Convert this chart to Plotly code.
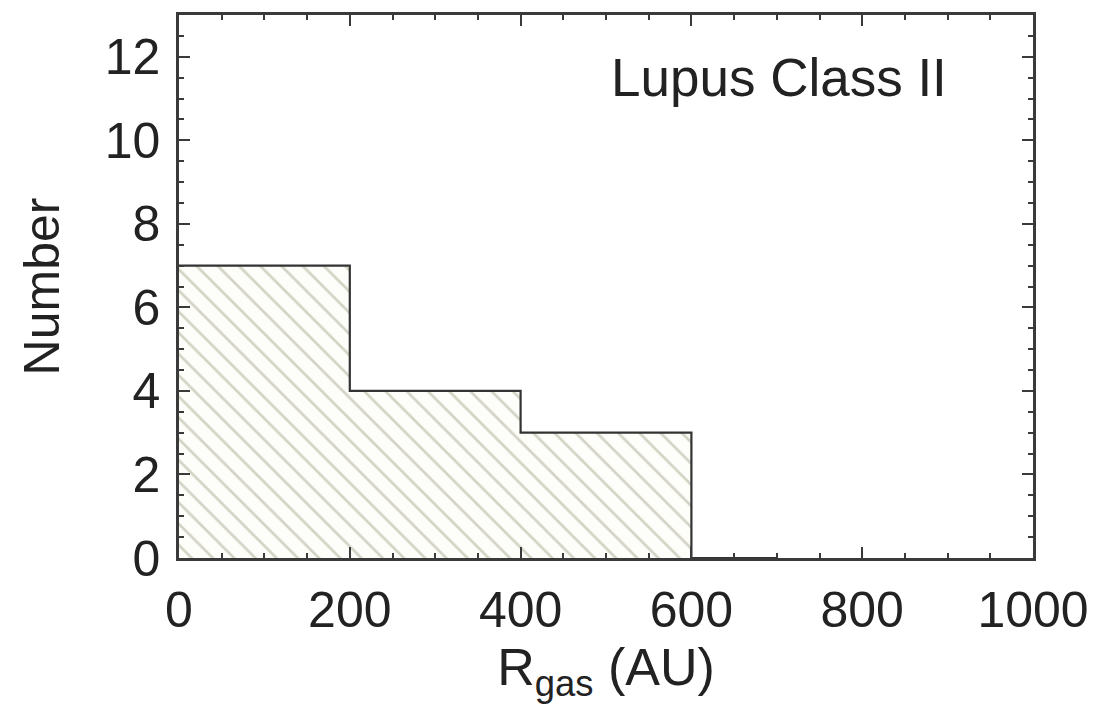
import plotly.graph_objects as go

# Histogram data (bin edges in AU, counts per bin)
bin_edges = [0, 200, 400, 600, 700]
counts = [7, 4, 3, 0]
x_tick_vals = [0, 200, 400, 600, 800, 1000]
y_tick_vals = [0, 2, 4, 6, 8, 10, 12]
label_text = "Lupus Class II"

centers = [(bin_edges[i] + bin_edges[i + 1]) / 2 for i in range(len(counts))]
widths = [bin_edges[i + 1] - bin_edges[i] for i in range(len(counts))]

FONT = "Liberation Sans, Arial, Helvetica, sans-serif"
AXC = "#3a3a3a"

fig = go.Figure()
fig.add_trace(go.Bar(
    x=centers, y=counts, width=widths,
    marker=dict(color="#fdfdf9", line=dict(width=0),
                pattern=dict(shape="\\", fgcolor="#a9a992", bgcolor="#fdfdf9",
                             size=15, solidity=0.18, fillmode="overlay")),
    showlegend=False, hoverinfo="skip"))
fig.add_trace(go.Scatter(
    x=bin_edges, y=counts + [counts[-1]], mode="lines",
    line=dict(shape="hv", color="#333333", width=2.2),
    showlegend=False, hoverinfo="skip"))

fig.add_annotation(text=label_text, xref="paper", yref="paper",
                   x=0.902, y=0.885, xanchor="right", yanchor="middle",
                   showarrow=False, font=dict(family=FONT, size=53, color="#222"))

fig.update_layout(
    width=1101, height=707,
    margin=dict(l=179, r=68, t=15, b=149),
    paper_bgcolor="white", plot_bgcolor="white",
    bargap=0,
    font=dict(family=FONT, size=50, color="#222"),
)
fig.update_xaxes(
    range=[0, 1000], tickvals=x_tick_vals, ticks="inside", ticklen=11, tickwidth=2,
    tickcolor=AXC, showline=True, linecolor=AXC, linewidth=2.5, mirror="ticks",
    showgrid=False, zeroline=False, ticklabelstandoff=6,
    minor=dict(dtick=50, ticks="inside", ticklen=5, tickwidth=1.5, tickcolor=AXC, showgrid=False),
    title=dict(text="R<sub>gas</sub> (AU)", font=dict(size=52), standoff=6),
)
fig.update_yaxes(
    range=[0, 13], tickvals=y_tick_vals, ticks="inside", ticklen=11, tickwidth=2,
    tickcolor=AXC, showline=True, linecolor=AXC, linewidth=2.5, mirror="ticks",
    showgrid=False, zeroline=False, ticklabelstandoff=6,
    minor=dict(dtick=0.5, ticks="inside", ticklen=5, tickwidth=1.5, tickcolor=AXC, showgrid=False),
    title=dict(text="Number", font=dict(size=50), standoff=30),
)

fig.write_html("out.html")
